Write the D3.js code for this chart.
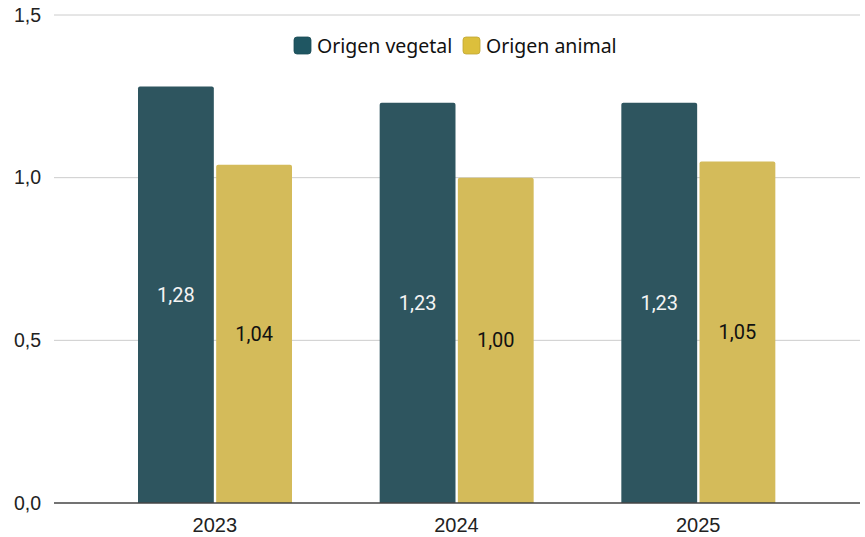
<!DOCTYPE html>
<html>
<head>
<meta charset="utf-8">
<script src="https://cdn.jsdelivr.net/npm/d3@7"></script>
<style>
  html, body { margin: 0; padding: 0; background: #fff; }
  svg { display: block; }
</style>
</head>
<body>
<svg id="chart" width="865" height="537"></svg>
<script>
// Consumo por origen, por año
const years = ["2023", "2024", "2025"];
const seriesNames = ["Origen vegetal", "Origen animal"];
const vegetal = [1.28, 1.23, 1.23];
const animal = [1.04, 1.00, 1.05];
const yTicks = [0, 0.5, 1.0, 1.5];

const barColors = ["#2e555f", "#d4bb5a"];
const legendColors = ["#1f5662", "#dcbf3c"];
const labelColors = ["#f4f4f4", "#111111"];

const svg = d3.select("#chart");

const gridLeft = 54, gridRight = 860;
const y = d3.scaleLinear().domain([0, 1.5]).range([503, 15]);
const x = d3.scaleBand().domain(years).range([94, 819]).paddingInner(0).paddingOuter(0);
const inner = d3.scaleBand().domain(seriesNames).range([44, 198]).paddingInner(0.03);

const fmt = v => d3.format(".2f")(v).replace(".", ",");
const fmtTick = v => d3.format(".1f")(v).replace(".", ",");

const axisFont = "'Liberation Sans', Arial, sans-serif";

// horizontal gridlines
svg.append("g").selectAll("line")
  .data(yTicks.filter(t => t > 0))
  .join("line")
  .attr("x1", gridLeft).attr("x2", gridRight)
  .attr("y1", d => y(d)).attr("y2", d => y(d))
  .attr("stroke", "#cccccc").attr("stroke-width", 1);

// y tick labels
svg.append("g").selectAll("text")
  .data(yTicks)
  .join("text")
  .attr("x", 41).attr("y", d => y(d))
  .attr("dy", "0.35em")
  .attr("text-anchor", "end")
  .attr("font-family", axisFont)
  .attr("font-size", 19.5)
  .attr("fill", "#222")
  .text(fmtTick);

// bars
const rows = years.map((yr, i) => ({ year: yr, vals: [vegetal[i], animal[i]] }));
const groups = svg.append("g").selectAll("g")
  .data(rows)
  .join("g")
  .attr("transform", d => `translate(${x(d.year)},0)`);

const r = 2;
function topRounded(x0, y0, w, h) {
  return `M${x0},${y0 + h}V${y0 + r}Q${x0},${y0} ${x0 + r},${y0}H${x0 + w - r}Q${x0 + w},${y0} ${x0 + w},${y0 + r}V${y0 + h}Z`;
}

groups.selectAll("path")
  .data(d => d.vals.map((v, j) => ({ v, j })))
  .join("path")
  .attr("d", d => {
    const bx = inner(seriesNames[d.j]);
    const bw = inner.bandwidth();
    return topRounded(bx, y(d.v), bw, y(0) - y(d.v));
  })
  .attr("fill", d => barColors[d.j]);

groups.selectAll("text")
  .data(d => d.vals.map((v, j) => ({ v, j })))
  .join("text")
  .attr("x", d => inner(seriesNames[d.j]) + inner.bandwidth() / 2)
  .attr("y", d => (y(d.v) + y(0)) / 2)
  .attr("dy", "0.35em")
  .attr("text-anchor", "middle")
  .attr("font-family", "Roboto, sans-serif")
  .attr("font-size", 20)
  .attr("fill", d => labelColors[d.j])
  .text(d => fmt(d.v));

// baseline
svg.append("line")
  .attr("x1", gridLeft).attr("x2", gridRight)
  .attr("y1", y(0)).attr("y2", y(0))
  .attr("stroke", "#444").attr("stroke-width", 1.3);

// x labels
svg.append("g").selectAll("text")
  .data(years)
  .join("text")
  .attr("x", d => x(d) + x.bandwidth() / 2)
  .attr("y", 525)
  .attr("dy", "0.35em")
  .attr("text-anchor", "middle")
  .attr("font-family", axisFont)
  .attr("font-size", 20)
  .attr("fill", "#222")
  .text(d => d);

// legend
const legend = svg.append("g");
const legendItems = [
  { name: seriesNames[0], color: legendColors[0], x: 294 },
  { name: seriesNames[1], color: legendColors[1], x: 463 }
];
legendItems.forEach(it => {
  legend.append("rect")
    .attr("x", it.x).attr("y", 37)
    .attr("width", 17).attr("height", 17)
    .attr("rx", 3)
    .attr("fill", it.color)
    .attr("stroke", d3.color(it.color).darker(0.4))
    .attr("stroke-width", 0.8);
  legend.append("text")
    .attr("x", it.x + 23).attr("y", 46)
    .attr("dy", "0.35em")
    .attr("font-family", "'Noto Sans', sans-serif")
    .attr("font-size", 19.5)
    .attr("fill", "#111")
    .text(it.name);
});
</script>
</body>
</html>
